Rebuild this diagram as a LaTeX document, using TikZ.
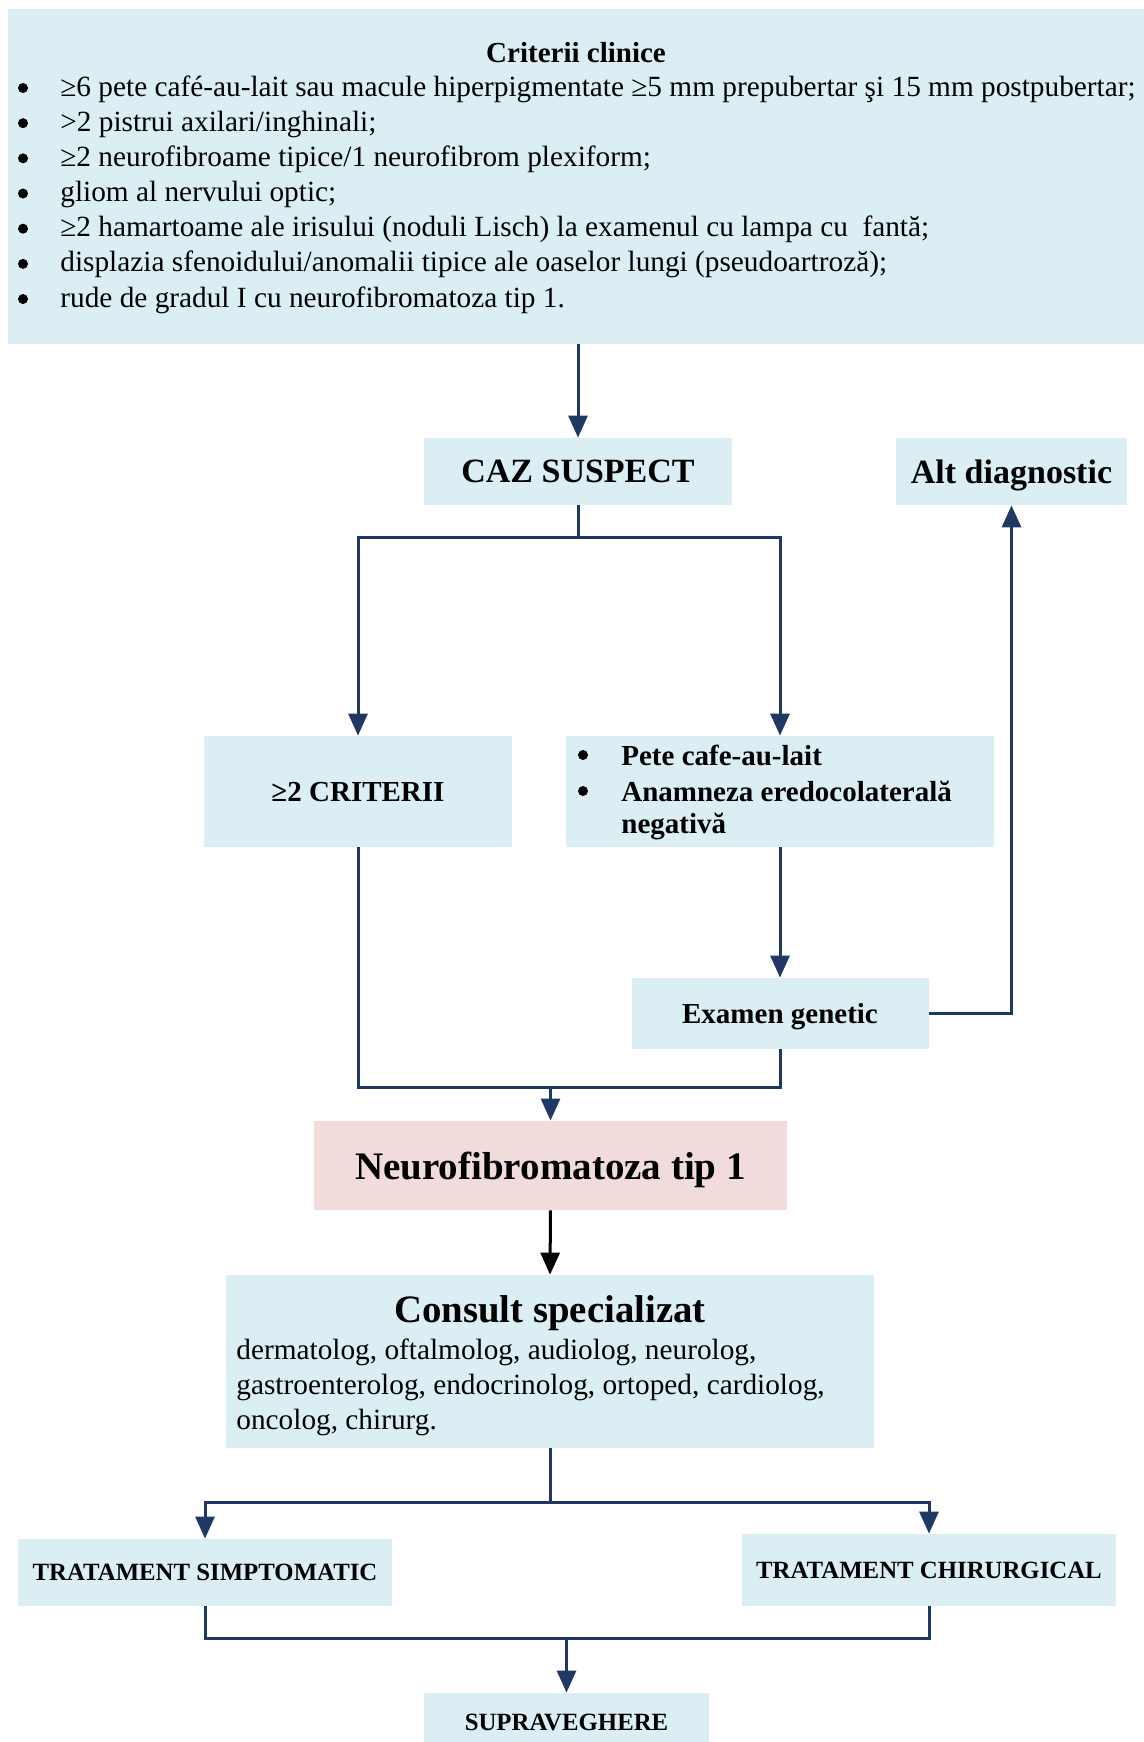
\documentclass[tikz,border=0pt]{standalone}
\usepackage{fontspec}
\setmainfont{Liberation Serif}
\usetikzlibrary{arrows.meta}
\definecolor{boxblue}{HTML}{DAEEF3}
\definecolor{boxpink}{HTML}{F2DCDB}
\definecolor{linenavy}{HTML}{1F3864}

\begin{document}
\begin{tikzpicture}[x=0.5pt, y=-0.5pt,
    bluebox/.style={rectangle, fill=boxblue, inner sep=0pt, align=center, text depth=0pt},
    conn/.style={linenavy, line width=1.5pt},
    arr/.style={conn, -{Triangle[length=11pt,width=9.5pt]}},
    txt/.style={inner sep=0pt, anchor=west},
    dot/.style={circle, fill=black, inner sep=0pt, minimum size=5pt}]
  \useasboundingbox (0,0) rectangle (1144,1742);

  % criterii
  \node[bluebox, minimum width=568pt, minimum height=167.5pt] (crit) at (576,176.5) {};
  \node[inner sep=0pt, font=\fontsize{14.5}{17}\selectfont\bfseries] (crittitle) at (576,53) {Criterii clinice};
  \foreach \t [count=\i] in {{≥6 pete café-au-lait sau macule hiperpigmentate ≥5 mm prepubertar şi 15 mm postpubertar;},
      {>2 pistrui axilari/inghinali;},
      {≥2 neurofibroame tipice/1 neurofibrom plexiform;},
      {gliom al nervului optic;},
      {≥2 hamartoame ale irisului (noduli Lisch) la examenul cu lampa cu\ \ fantă;},
      {displazia sfenoidului/anomalii tipice ale oaselor lungi (pseudoartroză);},
      {rude de gradul I cu neurofibromatoza tip 1.}} {
    \node[dot] (cb\i) at (23,{88+(\i-1)*35.17}) {};
    \node[txt, font=\fontsize{14.65}{17}\selectfont] (cl\i) at (60,{88.9+(\i-1)*35.17}) {\t};
  }

  \node[bluebox, minimum width=154pt, minimum height=33.5pt, font=\fontsize{17}{20}\selectfont\bfseries] (caz) at (578,471.5) {CAZ SUSPECT};
  \node[bluebox, minimum width=115.5pt, minimum height=33.5pt, font=\fontsize{17}{20}\selectfont\bfseries] (alt) at (1011.5,471.5) {Alt diagnostic};
  \node[bluebox, minimum width=154pt, minimum height=55.5pt, font=\fontsize{14.5}{17}\selectfont\bfseries] (crt) at (358,791.5) {≥2 CRITERII};

  % pete + anamneza
  \node[bluebox, minimum width=214pt, minimum height=55.5pt] (pete) at (780,791.5) {};
  \node[dot] (pb1) at (583,755) {};
  \node[dot] (pb2) at (583,791) {};
  \node[txt, font=\fontsize{14.5}{17}\selectfont\bfseries] (pl1) at (621,755) {Pete cafe-au-lait};
  \node[txt, font=\fontsize{14.5}{17}\selectfont\bfseries] (pl2) at (621,791) {Anamneza eredocolaterală};
  \node[txt, font=\fontsize{14.5}{17}\selectfont\bfseries] (pl3) at (621,826) {negativă};

  \node[bluebox, minimum width=148.5pt, minimum height=35.5pt, font=\fontsize{14.5}{17}\selectfont\bfseries] (exam) at (780,1013.5) {Examen genetic};
  \node[rectangle, fill=boxpink, inner sep=0pt, minimum width=236.5pt, minimum height=44.5pt, text depth=0pt, font=\fontsize{19.5}{23}\selectfont\bfseries] (nf1) at (550.5,1165.5) {Neurofibromatoza tip 1};

  % consult
  \node[bluebox, minimum width=324pt, minimum height=86.5pt] (cons) at (550,1361.5) {};
  \node[inner sep=0pt, text depth=0pt, font=\fontsize{19.4}{23}\selectfont\bfseries] (constitle) at (550,1309) {Consult specializat};
  \node[txt, align=left, font=\fontsize{14.65}{17.5}\selectfont] (consbody) at (236,1387) {dermatolog, oftalmolog, audiolog, neurolog,\\ gastroenterolog, endocrinolog, ortoped, cardiolog,\\ oncolog, chirurg.};

  \node[bluebox, minimum width=187pt, minimum height=33.5pt, font=\fontsize{12.4}{14}\selectfont\bfseries] (ts) at (205,1572.5) {TRATAMENT SIMPTOMATIC};
  \node[bluebox, minimum width=187pt, minimum height=36pt, font=\fontsize{12.4}{14}\selectfont\bfseries] (tc) at (929,1570) {TRATAMENT CHIRURGICAL};
  \node[bluebox, minimum width=142.5pt, minimum height=33.5pt] (sup) at (566.5,1726.5) {};
  \node[inner sep=0pt, font=\fontsize{12.4}{14}\selectfont\bfseries] (suptext) at (566.5,1722) {SUPRAVEGHERE};

  \coordinate (j1) at (550.5,1087);
  \coordinate (j2) at (550,1502);
  \coordinate (j3) at (566.5,1638);

  \draw[arr] (caz.north |- crit.south) -- (caz.north);
  \draw[arr] (caz.south) -- ++(0,32) -| (crt.north);
  \draw[arr] (caz.south) -- ++(0,32) -| (pete.north);
  \draw[arr] (pete.south) -- (exam.north);
  \draw[arr] (exam.east) -| (alt.south);
  \draw[conn] (crt.south) |- (j1);
  \draw[conn] (exam.south) |- (j1);
  \draw[arr] (j1) -- (nf1.north);
  \draw[arr, black] (nf1.south) -- (cons.north);
  \draw[conn] (cons.south) -- (j2);
  \draw[arr] (j2) -| (ts.north);
  \draw[arr] (j2) -| (tc.north);
  \draw[conn] (ts.south) |- (j3);
  \draw[conn] (tc.south) |- (j3);
  \draw[arr] (j3) -- (sup.north);
\end{tikzpicture}
\end{document}
